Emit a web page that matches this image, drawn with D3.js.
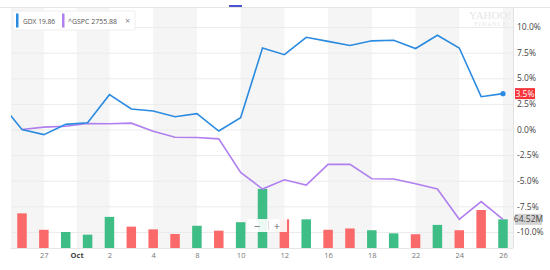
<!DOCTYPE html>
<html>
<head>
<meta charset="utf-8">
<script src="https://cdn.jsdelivr.net/npm/d3@7"></script>
<style>
  body { margin: 0; background: #fff; }
  svg { display: block; font-family: "Open Sans", "Liberation Sans", Arial, sans-serif; }
</style>
</head>
<body>
<svg id="chart" width="550" height="270"></svg>
<script>
// trading days shown (Sep 26 .. Oct 26)
const days = ["Sep 26", "Sep 27", "Sep 28", "Oct 1", "Oct 2", "Oct 3", "Oct 4", "Oct 5",
  "Oct 8", "Oct 9", "Oct 10", "Oct 11", "Oct 12", "Oct 15", "Oct 16", "Oct 17",
  "Oct 18", "Oct 19", "Oct 22", "Oct 23", "Oct 24", "Oct 25", "Oct 26"];

// % change, GDX (blue) and ^GSPC (purple)
const gdxPrev = 2.6; // Sep 25, cut off by the left edge
const gdx = [0, -0.5, 0.5, 0.65, 3.4, 2.0, 1.8, 1.25, 1.55, -0.15, 1.15, 7.95, 7.3,
  9.0, 8.6, 8.2, 8.65, 8.7, 7.9, 9.2, 7.95, 3.2, 3.5];
const gspc = [0, 0.23, 0.32, 0.59, 0.56, 0.62, -0.17, -0.75, -0.78, -0.91, -4.19, -5.81,
  -4.9, -5.42, -3.4, -3.4, -4.8, -4.83, -5.3, -5.8, -8.76, -7.03, -8.76];

// GDX volume, millions
const volume = [78, 41, 36, 30, 70, 48, 42, 31.5, 50, 39, 58, 133, 64.5, 64.5, 41, 44,
  40, 33, 31, 52, 40, 85.5, 64.52];

// axis labels
const yTicks = [-10, -7.5, -5, -2.5, 0, 2.5, 5, 7.5, 10];
const xTickPos = [1, 2.5, 4, 6, 8, 10, 12, 14, 16, 18, 20, 22];
const xTickLabels = ["27", "Oct", "2", "4", "8", "10", "12", "16", "18", "22", "24", "26"];

const svg = d3.select("#chart");
const pLeft = 11, pRight = 513, pTop = 8, pBottom = 248;

const x = d3.scaleLinear().domain([0, days.length - 1]).range([22, 503]);
const y = d3.scaleLinear().domain([-10, 10]).range([232, 27]);
const yVol = d3.scaleLinear().domain([0, 150]).range([pBottom, pBottom - 150 / 2.25]);

// alternating shaded columns between tick labels
const bands = [[pLeft, x(1)], [x(2.5), x(4)], [x(6), x(8)], [x(10), x(12)],
  [x(14), x(16)], [x(18), x(20)], [x(22), pRight]];
svg.selectAll(".band").data(bands).enter().append("rect")
  .attr("x", d => d[0]).attr("y", pTop)
  .attr("width", d => d[1] - d[0]).attr("height", pBottom - pTop)
  .attr("fill", "#f5f5f5");

// horizontal grid
svg.selectAll(".grid").data(yTicks).enter().append("line")
  .attr("x1", pLeft).attr("x2", pRight)
  .attr("y1", d => y(d) + 0.5).attr("y2", d => y(d) + 0.5)
  .attr("stroke", "#ebebeb");

svg.append("line").attr("x1", 0).attr("x2", 550).attr("y1", 7.5).attr("y2", 7.5).attr("stroke", "#e6e6e6");
svg.append("line").attr("x1", pRight + 0.5).attr("x2", pRight + 0.5).attr("y1", pTop).attr("y2", pBottom).attr("stroke", "#e3e3e3");
svg.append("line").attr("x1", pLeft).attr("x2", pRight).attr("y1", pBottom + 0.5).attr("y2", pBottom + 0.5).attr("stroke", "#e6e6e6");
svg.append("rect").attr("x", 229).attr("y", 5).attr("width", 13).attr("height", 2).attr("fill", "#4a52cf");

// watermark
svg.append("text").attr("x", 490).attr("y", 19).attr("text-anchor", "middle")
  .attr("font-family", "Liberation Serif, serif").attr("font-size", 11).attr("fill", "#e6e6e6").text("YAHOO!");
svg.append("text").attr("x", 491).attr("y", 26).attr("text-anchor", "middle")
  .attr("font-family", "Liberation Serif, serif").attr("font-size", 6).attr("letter-spacing", 1).attr("fill", "#e6e6e6").text("FINANCE");

// volume bars, coloured by GDX day change
const barW = 9.5;
svg.selectAll(".vol").data(volume).enter().append("rect")
  .attr("x", (d, i) => x(i) - barW / 2)
  .attr("y", d => yVol(d))
  .attr("width", barW)
  .attr("height", d => pBottom - yVol(d))
  .attr("fill", (d, i) => gdx[i] >= (i === 0 ? gdxPrev : gdx[i - 1]) ? "#3fbd86" : "#fb6a6a");

// lines
svg.append("clipPath").attr("id", "clip").append("rect")
  .attr("x", pLeft).attr("y", 0).attr("width", pRight - pLeft).attr("height", 270);

const line = d3.line().x(d => x(d[0])).y(d => y(d[1]));
const gdxPts = [[-1, gdxPrev]].concat(gdx.map((v, i) => [i, v]));
const gspcPts = gspc.map((v, i) => [i, v]);

svg.append("path").datum(gspcPts).attr("clip-path", "url(#clip)")
  .attr("d", line).attr("fill", "none").attr("stroke", "#b07ff0").attr("stroke-width", 1.6);
svg.append("path").datum(gdxPts).attr("clip-path", "url(#clip)")
  .attr("d", line).attr("fill", "none").attr("stroke", "#2b8be0").attr("stroke-width", 1.6);
svg.append("circle").attr("cx", x(gdx.length - 1)).attr("cy", y(gdx[gdx.length - 1]))
  .attr("r", 2.6).attr("fill", "#2b8be0");

// zoom control
const zc = svg.append("g").attr("transform", "translate(247,219)");
zc.append("rect").attr("width", 40).attr("height", 13).attr("fill", "#fff").attr("opacity", 0.9);
zc.append("line").attr("x1", 21.5).attr("x2", 21.5).attr("y1", 2).attr("y2", 11).attr("stroke", "#ddd");
zc.append("text").attr("x", 10).attr("y", 10.5).attr("text-anchor", "middle").attr("font-size", 11).attr("fill", "#666").text("−");
zc.append("text").attr("x", 30).attr("y", 10.5).attr("text-anchor", "middle").attr("font-size", 11).attr("fill", "#666").text("+");

// right y axis
const yAxis = svg.append("g").attr("transform", `translate(${pRight},0)`)
  .call(d3.axisRight(y).tickValues(yTicks).tickSize(0).tickPadding(4)
    .tickFormat(d => d.toFixed(1) + "%"));
yAxis.select(".domain").remove();
yAxis.selectAll("text").attr("font-size", 8.5).attr("fill", "#444").attr("font-family", "Open Sans, Liberation Sans, sans-serif");

// x axis
const xAxis = svg.append("g").attr("transform", `translate(0,${pBottom})`)
  .call(d3.axisBottom(x).tickValues(xTickPos).tickSize(0).tickPadding(5)
    .tickFormat((d, i) => xTickLabels[i]));
xAxis.select(".domain").remove();
xAxis.selectAll("text").attr("font-size", 7.5).attr("fill", "#777")
  .attr("font-family", "Open Sans, Liberation Sans, sans-serif")
  .filter(d => d === 2.5).attr("font-weight", "bold").attr("fill", "#444");

// last value flags
const flag = svg.append("g").attr("transform", `translate(${pRight + 2},${y(gdx[gdx.length - 1])})`);
flag.append("rect").attr("x", 0).attr("y", -5.5).attr("width", 20).attr("height", 11).attr("fill", "#f7333a");
flag.append("text").attr("x", 10).attr("y", 3).attr("text-anchor", "middle").attr("font-size", 8.5).attr("fill", "#fff").text("3.5%");

const vflag = svg.append("g").attr("transform", `translate(${pRight + 2},${yVol(volume[volume.length - 1])})`);
vflag.append("rect").attr("x", 0).attr("y", -5.5).attr("width", 27).attr("height", 11).attr("fill", "#d2d2d2");
vflag.append("text").attr("x", 13.5).attr("y", 3).attr("text-anchor", "middle").attr("font-size", 8.5).attr("fill", "#444").text("64.52M");

// legend
const lg = svg.append("g").attr("transform", "translate(13,11)");
lg.append("rect").attr("width", 122).attr("height", 19).attr("fill", "#fff")
  .attr("stroke", "#eee").attr("rx", 1);
lg.append("rect").attr("x", 3).attr("y", 2.5).attr("width", 2.5).attr("height", 14).attr("fill", "#2b8be0");
lg.append("text").attr("x", 10).attr("y", 12.5).attr("font-size", 8).attr("fill", "#555")
  .attr("textLength", 32).attr("lengthAdjust", "spacingAndGlyphs").text("GDX 19.86");
lg.append("rect").attr("x", 49).attr("y", 2.5).attr("width", 2.5).attr("height", 14).attr("fill", "#b07ff0");
lg.append("text").attr("x", 55).attr("y", 12.5).attr("font-size", 8).attr("fill", "#555")
  .attr("textLength", 49).attr("lengthAdjust", "spacingAndGlyphs").text("^GSPC 2755.88");
lg.append("text").attr("x", 112).attr("y", 12.5).attr("font-size", 9).attr("fill", "#888").text("×");
</script>
</body>
</html>
